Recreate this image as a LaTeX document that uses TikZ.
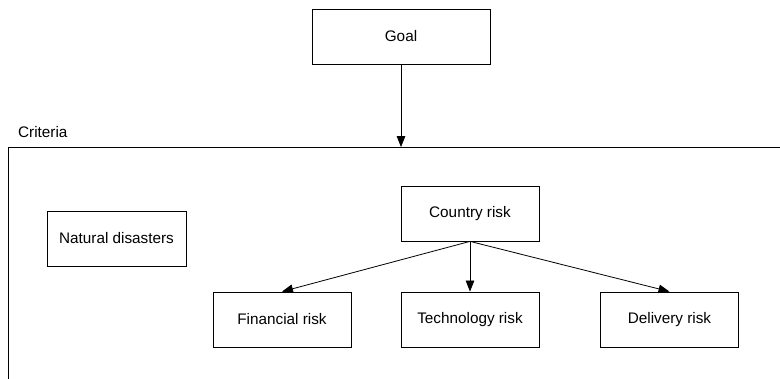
\documentclass[tikz,border=0pt]{standalone}
\usepackage{fontspec}
\setmainfont{Liberation Sans}
\usetikzlibrary{arrows.meta}
\tikzset{
  critnode/.style = {align=center, inner sep=0pt, text centered},
  box_c/.style = {critnode, rectangle, black, draw=black, minimum width=138pt, minimum height=55pt, line width=0.8pt},
  box_g/.style = {box_c, minimum width=178pt},
  box_frame/.style = {rectangle, draw=black, line width=0.8pt, minimum width=791.5pt, minimum height=251.5pt, inner sep=0pt},
  arr/.style = {-{Triangle[length=11pt,width=8.5pt]}, line width=0.8pt},
}

\begin{document}
\begin{tikzpicture}[
    x=1pt, y=1pt,
    font=\fontsize{15.3pt}{18pt}\selectfont,
    level distance=106pt,
    level 1/.style={sibling distance=188pt},
    parent anchor=south, child anchor=north,
    edge from parent/.style={draw, arr}
]
  \useasboundingbox (0,0) rectangle (780,379);
  \node [box_g] (goal) at (401,342.5) {Goal};
  \node [box_frame] (crit) at (404,105.75) {};
  \node [anchor=base west, inner sep=0pt] (critlabel) at (18,241) {Criteria};
  \draw [arr] (goal.south) -- (goal.south |- crit.north);
  \node [box_c, minimum width=139pt] (nat) at (116.5,140.5) {Natural disasters};
  \node [box_c] (country) at (470,165.5) {Country risk}
  child{
    node [box_c] (fin) {Financial risk}
  }
  child{
    node [box_c] (tech) {Technology risk}
  }
  child{
    node [box_c, xshift=11.5pt] (del) {Delivery risk}
  };
\end{tikzpicture}
\end{document}
